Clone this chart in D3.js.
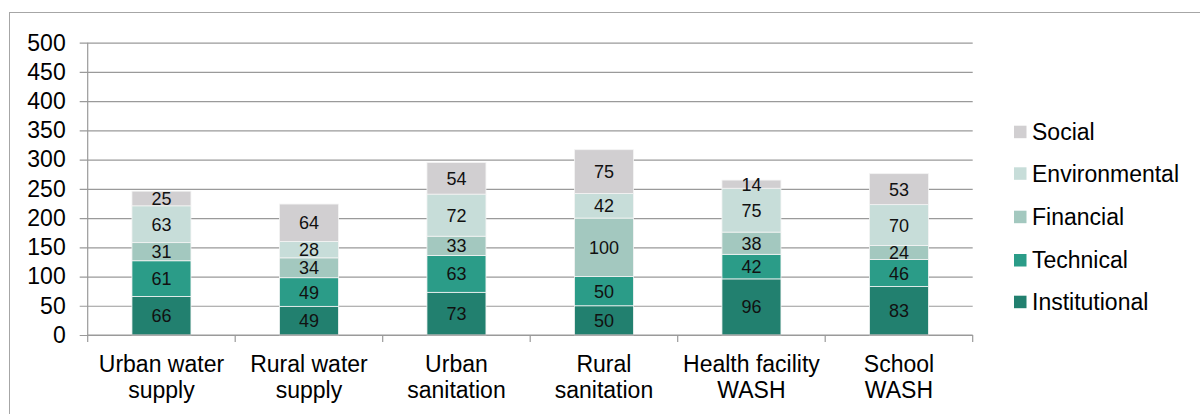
<!DOCTYPE html>
<html>
<head>
<meta charset="utf-8">
<script src="https://d3js.org/d3.v7.min.js"></script>
<style>
  html, body { margin: 0; padding: 0; background: #fff; }
  svg { display: block; font-family: "Liberation Sans", Arial, sans-serif; }
</style>
</head>
<body>
<svg id="chart" width="1200" height="414"></svg>
<script>
// categories and values
var categories = [
    ["Urban water", "supply"],
    ["Rural water", "supply"],
    ["Urban", "sanitation"],
    ["Rural", "sanitation"],
    ["Health facility", "WASH"],
    ["School", "WASH"]
];
var seriesNames = ["Institutional", "Technical", "Financial", "Environmental", "Social"];
var institutional = [66, 49, 73, 50, 96, 83];
var technical = [61, 49, 63, 50, 42, 46];
var financial = [31, 34, 33, 100, 38, 24];
var environmental = [63, 28, 72, 42, 75, 70];
var social = [25, 64, 54, 75, 14, 53];
var yTicks = [0, 50, 100, 150, 200, 250, 300, 350, 400, 450, 500];

var colors = ["#22806f", "#2b9c88", "#a3c8bf", "#c7ddd9", "#d1cfd1"];
var values = [institutional, technical, financial, environmental, social];

var svg = d3.select("#chart");

// outer frame
svg.append("rect")
    .attr("x", 9.5).attr("y", 12.5)
    .attr("width", 1300).attr("height", 500)
    .attr("fill", "none")
    .attr("stroke", "#a6a6a6");

var x = d3.scaleBand()
    .domain(d3.range(categories.length))
    .range([87.7, 972.7])
    .paddingInner(0.6)
    .paddingOuter(0.3);

var y = d3.scaleLinear()
    .domain([0, 500])
    .range([335, 42.7]);

var step = x.step();

// gridlines + y ticks
var yAxis = d3.axisLeft(y)
    .tickValues(yTicks)
    .tickSize(-(972.7 - 87.7))
    .tickPadding(22)
    .tickFormat(d3.format("d"));

var gy = svg.append("g")
    .attr("transform", "translate(87.7,0)")
    .call(yAxis);
gy.select(".domain").remove();
gy.selectAll(".tick line")
    .attr("x1", -8)
    .attr("stroke", "#9a9a9a")
    .attr("stroke-width", 1.2);
gy.selectAll(".tick text")
    .attr("x", -22)
    .attr("fill", "#000")
    .style("font-size", "23px")
    .style("font-family", "'Liberation Sans', Arial, sans-serif");

// y axis line
svg.append("line")
    .attr("x1", 87.7).attr("x2", 87.7)
    .attr("y1", y(500)).attr("y2", y(0))
    .attr("stroke", "#9a9a9a")
    .attr("stroke-width", 1.2);

// stacked data
var rows = categories.map(function(c, i) {
    var r = { i: i };
    seriesNames.forEach(function(s, k) { r[s] = values[k][i]; });
    return r;
});
var stack = d3.stack().keys(seriesNames)(rows);

var layers = svg.append("g").selectAll("g")
    .data(stack)
    .enter().append("g")
    .attr("fill", function(d, k) { return colors[k]; });

layers.selectAll("rect")
    .data(function(d) { return d; })
    .enter().append("rect")
    .attr("x", function(d) { return x(d.data.i); })
    .attr("width", x.bandwidth())
    .attr("y", function(d) { return y(d[1]); })
    .attr("height", function(d) { return y(d[0]) - y(d[1]); })
    .attr("stroke", "#f4f4f4")
    .attr("stroke-width", 0.8);

// value labels
layers.selectAll("text")
    .data(function(d) { return d; })
    .enter().append("text")
    .attr("x", function(d) { return x(d.data.i) + x.bandwidth() / 2; })
    .attr("y", function(d) { return (y(d[0]) + y(d[1])) / 2; })
    .attr("dy", "0.36em")
    .attr("text-anchor", "middle")
    .attr("fill", "#111")
    .style("font-size", "18px")
    .text(function(d) { return d[1] - d[0]; });

// x axis baseline and ticks
svg.append("line")
    .attr("x1", 87.7).attr("x2", 972.7)
    .attr("y1", y(0)).attr("y2", y(0))
    .attr("stroke", "#9a9a9a")
    .attr("stroke-width", 1.2);

svg.append("g").selectAll("line")
    .data(d3.range(categories.length + 1))
    .enter().append("line")
    .attr("x1", function(i) { return 87.7 + i * step; })
    .attr("x2", function(i) { return 87.7 + i * step; })
    .attr("y1", y(0))
    .attr("y2", y(0) + 7)
    .attr("stroke", "#9a9a9a")
    .attr("stroke-width", 1.2);

// category labels
var xl = svg.append("g").selectAll("text")
    .data(categories)
    .enter().append("text")
    .attr("text-anchor", "middle")
    .attr("fill", "#000")
    .style("font-size", "23px")
    .attr("transform", function(d, i) {
        return "translate(" + (x(i) + x.bandwidth() / 2) + ",0)";
    });
xl.selectAll("tspan")
    .data(function(d) { return d; })
    .enter().append("tspan")
    .attr("x", 0)
    .attr("y", function(d, j) { return 372 + j * 25.5; })
    .text(function(d) { return d; });

// legend (Social on top)
var legendY = [131.7, 173.3, 216.7, 260, 301.7];
var legendOrder = seriesNames.slice().reverse();
var lg = svg.append("g").selectAll("g")
    .data(legendOrder)
    .enter().append("g")
    .attr("transform", function(d, i) { return "translate(1014," + legendY[i] + ")"; });
lg.append("rect")
    .attr("x", 0).attr("y", -6)
    .attr("width", 12.5).attr("height", 12.5)
    .attr("fill", function(d) { return colors[seriesNames.indexOf(d)]; });
lg.append("text")
    .attr("x", 18)
    .attr("dy", "0.36em")
    .attr("fill", "#000")
    .style("font-size", "23px")
    .text(function(d) { return d; });
</script>
</body>
</html>
